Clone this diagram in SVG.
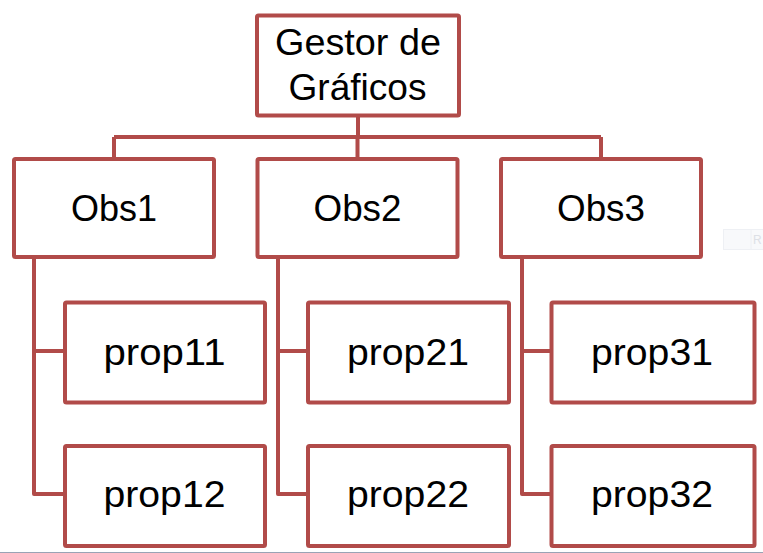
<svg xmlns="http://www.w3.org/2000/svg" width="763" height="553" viewBox="0 0 763 553">
<style>
.box{fill:#ffffff;stroke:#b14b49;stroke-width:4;stroke-linejoin:round}
.conn{fill:none;stroke:#b14b49;stroke-width:4;stroke-linejoin:round}
.lbl{font-family:"Liberation Sans",Arial,sans-serif;font-size:37px;fill:#000000;text-anchor:middle}
</style>
<rect x="0" y="0" width="763" height="553" fill="#ffffff"/>
<g id="artifact">
<rect x="723.5" y="229.5" width="45" height="20" fill="#f8f9fb" stroke="#eef0f4" stroke-width="1"/>
<line x1="751" y1="230" x2="751" y2="249" stroke="#eef0f4" stroke-width="1"/>
<text x="753" y="244" font-family="Liberation Sans,Arial,sans-serif" font-size="12" fill="#dde0e6">R</text>
</g>
<g id="connectors">
<path class="conn" d="M358 115 V137 M114 137 H601 M114 137 V159 M357.5 137 V159 M601 137 V159"/>
<path class="conn" d="M34 257 V494 H65 M34 351 H65"/>
<path class="conn" d="M278 257 V494 H308 M278 351 H308"/>
<path class="conn" d="M522 257 V494 H551 M522 351 H551"/>
</g>
<g id="gestor">
<rect class="box" x="257" y="15.5" width="202" height="100" rx="1.5"/>
<text class="lbl" x="358" y="55" textLength="166" lengthAdjust="spacingAndGlyphs">Gestor de</text>
<text class="lbl" x="357.5" y="100" textLength="138" lengthAdjust="spacingAndGlyphs">Gráficos</text>
</g>
<g id="obs1">
<rect class="box" x="14" y="159" width="200" height="98" rx="1.5"/>
<text class="lbl" x="114" y="221" textLength="86" lengthAdjust="spacingAndGlyphs">Obs1</text>
</g>
<g id="obs2">
<rect class="box" x="257.5" y="159" width="200" height="98" rx="1.5"/>
<text class="lbl" x="357.5" y="221" textLength="88" lengthAdjust="spacingAndGlyphs">Obs2</text>
</g>
<g id="obs3">
<rect class="box" x="501" y="159" width="200" height="98" rx="1.5"/>
<text class="lbl" x="601" y="221" textLength="88" lengthAdjust="spacingAndGlyphs">Obs3</text>
</g>
<g id="prop11">
<rect class="box" x="65" y="302.5" width="200" height="100" rx="1.5"/>
<text class="lbl" x="164.5" y="365" textLength="122" lengthAdjust="spacingAndGlyphs">prop11</text>
</g>
<g id="prop12">
<rect class="box" x="65" y="446" width="200" height="100" rx="1.5"/>
<text class="lbl" x="164.5" y="507" textLength="122" lengthAdjust="spacingAndGlyphs">prop12</text>
</g>
<g id="prop21">
<rect class="box" x="308" y="302.5" width="201" height="100" rx="1.5"/>
<text class="lbl" x="408" y="365" textLength="122" lengthAdjust="spacingAndGlyphs">prop21</text>
</g>
<g id="prop22">
<rect class="box" x="308" y="446" width="201" height="100" rx="1.5"/>
<text class="lbl" x="408" y="507" textLength="122" lengthAdjust="spacingAndGlyphs">prop22</text>
</g>
<g id="prop31">
<rect class="box" x="551.5" y="302.5" width="203" height="100" rx="1.5"/>
<text class="lbl" x="652" y="365" textLength="122" lengthAdjust="spacingAndGlyphs">prop31</text>
</g>
<g id="prop32">
<rect class="box" x="551.5" y="446" width="203" height="100" rx="1.5"/>
<text class="lbl" x="652" y="507" textLength="122" lengthAdjust="spacingAndGlyphs">prop32</text>
</g>
<line x1="0" y1="552.5" x2="763" y2="552.5" stroke="#9aa3b5" stroke-width="1"/>
</svg>
